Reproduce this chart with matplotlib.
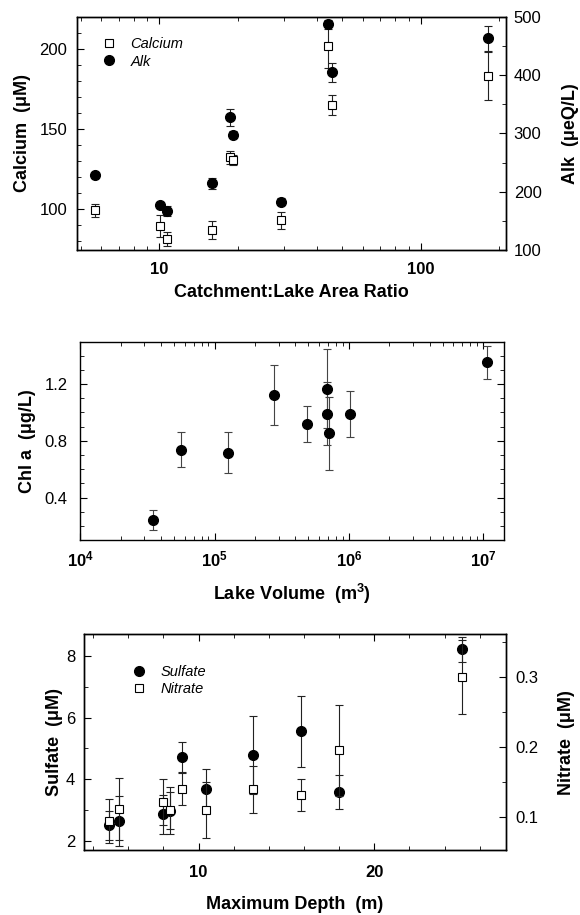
import numpy as np
import matplotlib
matplotlib.use("Agg")
import matplotlib.pyplot as plt
from matplotlib.ticker import MultipleLocator, LogLocator, NullFormatter, FixedLocator

plt.rcParams["font.family"] = ["Liberation Sans", "DejaVu Sans"]
plt.rcParams["mathtext.fontset"] = "custom"
plt.rcParams["mathtext.rm"] = "Liberation Sans"
plt.rcParams["mathtext.bf"] = "Liberation Sans:bold"
plt.rcParams["axes.linewidth"] = 1.0

# panel 1: calcium / alkalinity vs catchment:lake area ratio
area_ratio = [5.69, 10.07, 10.67, 15.83, 18.63, 19.12, 29.2, 44.2, 45.8, 180.3]
calcium = [99.4, 89.6, 81.5, 87.1, 132.4, 130.6, 93.1, 201.7, 164.9, 183.2]
calcium_err = [4.2, 6.6, 4.5, 5.7, 4.0, 3.0, 5.2, 13.7, 6.3, 14.9]
alk = [228, 176.6, 166.9, 214.3, 327.4, 297.7, 182.9, 486.9, 404.6, 462.9]
alk_err = [4, 5, 8, 9, 14, 6, 6, 8, 16, 22]

# panel 2: chl a vs lake volume
volume = [3.47e4, 5.61e4, 1.256e5, 2.78e5, 4.89e5, 6.84e5, 6.92e5, 7.14e5, 1.013e6, 1.07e7]
chla = [0.243, 0.738, 0.717, 1.123, 0.918, 1.167, 0.991, 0.853, 0.991, 1.352]
chla_err = [0.073, 0.123, 0.143, 0.212, 0.126, 0.28, 0.223, 0.255, 0.162, 0.115]

# panel 3: sulfate / nitrate vs maximum depth
depth = [4.88, 5.47, 7.96, 8.38, 9.07, 10.42, 13.09, 15.81, 18.02, 25.01]
sulfate = [2.51, 2.64, 2.86, 2.97, 4.73, 3.67, 4.79, 5.55, 3.58, 8.22]
sulfate_err = [0.47, 0.82, 0.64, 0.60, 0.49, 0.66, 1.26, 1.14, 0.54, 0.41]
nitrate = [0.094, 0.111, 0.121, 0.109, 0.140, 0.110, 0.139, 0.131, 0.195, 0.300]
nitrate_err = [0.031, 0.044, 0.033, 0.034, 0.023, 0.040, 0.034, 0.023, 0.065, 0.053]

TICK = 12
LAB = 13
ebar = dict(ecolor="#222222", elinewidth=0.8, capsize=2.8, capthick=0.8, linestyle="none")
circle = dict(fmt="o", color="black", markersize=7)
square = dict(fmt="s", markerfacecolor="white", markeredgecolor="black",
              markeredgewidth=0.8, markersize=5.5)
legprops = dict(frameon=False, handletextpad=1.0, handlelength=1.0, labelspacing=0.25,
                prop=dict(style="italic", size=10.5), loc="upper left")


def style(ax, xpad, ypad, right=True):
    ax.tick_params(which="both", direction="in", top=True, right=right, labelsize=TICK)
    ax.tick_params(which="major", length=5, width=0.8)
    ax.tick_params(which="minor", length=3, width=0.6)
    ax.tick_params(axis="x", pad=xpad)
    ax.tick_params(axis="y", pad=ypad)
    for lab in ax.get_xticklabels():
        lab.set_fontweight("bold")


def style_right(ax, ypad):
    ax.tick_params(which="both", direction="in", labelsize=TICK, pad=ypad)
    ax.tick_params(which="major", length=5, width=0.8)
    ax.tick_params(which="minor", length=3, width=0.6)


fig = plt.figure(figsize=(5.8, 9.15), dpi=100)

# ---------- panel 1 ----------
ax1 = fig.add_axes([0.1328, 0.7268, 0.7397, 0.2549])
ax1.set_xscale("log")
ca = ax1.errorbar(area_ratio, calcium, yerr=calcium_err, **square, **ebar)
ax1.set_xlim(4.84, 212)
ax1.set_ylim(74.6, 220.2)
ax1.yaxis.set_major_locator(FixedLocator([100, 150, 200]))
ax1.yaxis.set_minor_locator(MultipleLocator(10))
ax1.xaxis.set_major_locator(FixedLocator([10, 100]))
ax1.set_xticklabels(["10", "100"])
ax1.xaxis.set_minor_locator(LogLocator(base=10, subs=np.arange(2, 10)))
ax1.xaxis.set_minor_formatter(NullFormatter())
style(ax1, xpad=9, ypad=7, right=False)
ax1.set_xlabel("Catchment:Lake Area Ratio", fontsize=LAB, fontweight="bold", labelpad=5)
ax1.set_ylabel("Calcium  (\u03bcM)", fontsize=LAB, fontweight="bold", labelpad=6)

ax1b = ax1.twinx()
al = ax1b.errorbar(area_ratio, alk, yerr=alk_err, **circle, **ebar)
ax1b.set_ylim(100, 500)
ax1b.yaxis.set_major_locator(MultipleLocator(100))
ax1b.yaxis.set_minor_locator(MultipleLocator(50))
style_right(ax1b, 5.5)
ax1b.set_ylabel("Alk  (\u03bceQ/L)", fontsize=LAB, fontweight="bold", labelpad=15)
ax1b.legend([ca[0], al[0]], ["Calcium", "Alk"], bbox_to_anchor=(0.026, 0.97), **legprops)

# ---------- panel 2 ----------
ax2 = fig.add_axes([0.1384, 0.4098, 0.7304, 0.2168])
ax2.set_xscale("log")
ax2.errorbar(volume, chla, yerr=chla_err, **circle, **dict(ebar, ecolor="#444444"))
ax2.set_xlim(1e4, 1.426e7)
ax2.set_ylim(0.102, 1.498)
ax2.yaxis.set_major_locator(FixedLocator([0.4, 0.8, 1.2]))
ax2.yaxis.set_minor_locator(MultipleLocator(0.1))
ax2.xaxis.set_major_locator(FixedLocator([1e4, 1e5, 1e6, 1e7]))
ax2.set_xticklabels([r"$\mathbf{10^{4}}$", r"$\mathbf{10^{5}}$",
                     r"$\mathbf{10^{6}}$", r"$\mathbf{10^{7}}$"])
ax2.xaxis.set_minor_locator(LogLocator(base=10, subs=np.arange(2, 10)))
ax2.xaxis.set_minor_formatter(NullFormatter())
style(ax2, xpad=7, ypad=9)
ax2.set_xlabel(r"Lake Volume  (m$^{\mathbf{3}}$)", fontsize=LAB, fontweight="bold", labelpad=9)
ax2.set_ylabel("Chl a  (\u03bcg/L)", fontsize=LAB, fontweight="bold", labelpad=6)

# ---------- panel 3 ----------
ax3 = fig.add_axes([0.1441, 0.0710, 0.7283, 0.2357])
su = ax3.errorbar(depth, sulfate, yerr=sulfate_err, **circle, **ebar)
ax3.set_xlim(3.45, 27.5)
ax3.set_ylim(1.70, 8.70)
ax3.yaxis.set_major_locator(MultipleLocator(2))
ax3.yaxis.set_minor_locator(MultipleLocator(1))
ax3.xaxis.set_major_locator(MultipleLocator(10))
ax3.xaxis.set_minor_locator(MultipleLocator(2))
style(ax3, xpad=11, ypad=6, right=False)
ax3.set_xlabel("Maximum Depth  (m)", fontsize=LAB, fontweight="bold", labelpad=11)
ax3.set_ylabel("Sulfate  (\u03bcM)", fontsize=LAB, fontweight="bold", labelpad=2)

ax3b = ax3.twinx()
ni = ax3b.errorbar(depth, nitrate, yerr=nitrate_err, **square, **ebar)
ax3b.set_ylim(0.0524, 0.3606)
ax3b.yaxis.set_major_locator(MultipleLocator(0.1))
ax3b.yaxis.set_minor_locator(MultipleLocator(0.05))
style_right(ax3b, 7)
ax3b.set_ylabel("Nitrate  (\u03bcM)", fontsize=LAB, fontweight="bold", labelpad=14)
ax3b.legend([su[0], ni[0]], ["Sulfate", "Nitrate"], bbox_to_anchor=(0.082, 0.92), **legprops)

fig.savefig("out.png", dpi=100, facecolor="white")
